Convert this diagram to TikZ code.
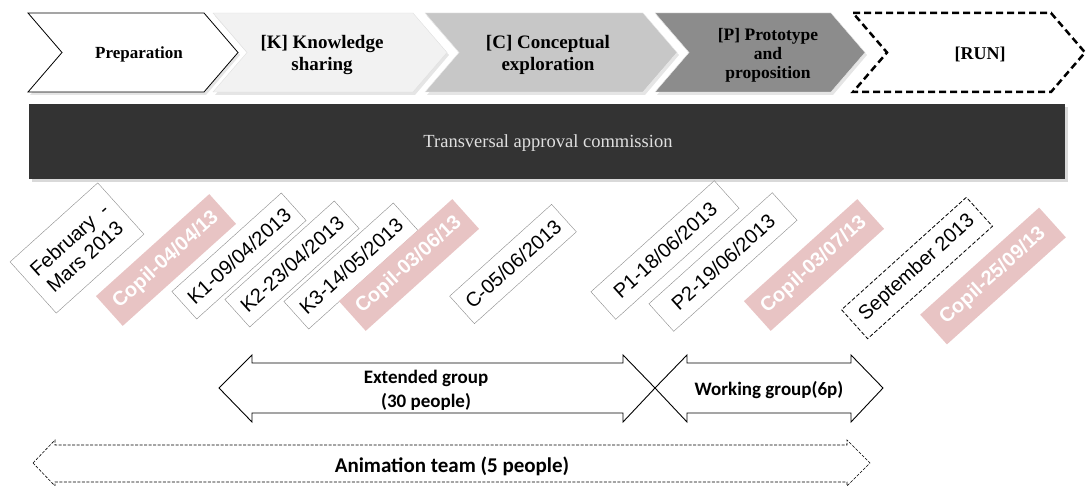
\documentclass[tikz,border=0pt]{standalone}
\usepackage{fontspec}
\setmainfont{Liberation Serif}
\newfontfamily\arialfont{Liberation Sans}
\newfontfamily\calibrifont{Carlito}
\usetikzlibrary{calc}
\definecolor{copil}{HTML}{E8C4C4}
\definecolor{barcol}{HTML}{333333}
\def\chevron[#1](#2:#3){%
	\fill[black!10] (#2+2,16) -- (#3-32,16) -- (#3+2,55) -- (#3-32,95) -- (#2+2,95) -- (#2+36,55) -- cycle;
	\draw[#1] (#2,13) -- (#3-34,13) -- (#3,52.5) -- (#3-34,92) -- (#2,92) -- (#2+34,52.5) -- cycle;}

\tikzset{
	datebox/.style={draw=black!45, fill=white, rotate=42, font=\arialfont\fontsize{20}{23}\selectfont, inner xsep=8pt, minimum height=37pt, align=center},
	copilbox/.style={fill=copil, rotate=42, text=white, font=\arialfont\bfseries\fontsize{20}{23}\selectfont, inner xsep=9pt, minimum height=40pt},
	steplabel/.style={font=\bfseries\fontsize{19}{22}\selectfont, align=center},
	grouplabel/.style={font=\calibrifont\bfseries\fontsize{19}{24}\selectfont, align=center},
}

\begin{document}
\begin{tikzpicture}[x=1pt, y=-1pt]
			%%%%% START %%%%%
			\useasboundingbox (0,0) rectangle (1087,486);
			
			% phases
			\chevron[fill=white, draw=black, line width=0.8pt](28:238);
			\chevron[fill=black!5, draw=black!12](213:447);
			\chevron[fill=black!22, draw=black!8](425:677);
			\chevron[fill=black!45, draw=black!8](655:865);
			\draw[line width=2.5pt, dash pattern=on 7pt off 4pt] (853,13) -- (1051,13) -- (1085,52.5) -- (1051,92) -- (853,92) -- (887,52.5) -- cycle;
			
			\node[steplabel, font=\bfseries\fontsize{17}{20}\selectfont] (prep) at (139, 54) {Preparation};
			\node[steplabel] (know) at (322, 55) {[K] Knowledge\\sharing};
			\node[steplabel] (conc) at (548, 55) {[C] Conceptual\\exploration};
			\node[steplabel, font=\bfseries\fontsize{17.5}{19}\selectfont] (prot) at (768, 55) {[P] Prototype\\and\\proposition};
			\node[steplabel, font=\bfseries\fontsize{18}{20}\selectfont] (run) at (980, 54) {[RUN]};
			
			% commission bar
			\fill[black!15] (32,107) rectangle (1068,182);
			\fill[barcol] (29,104) rectangle (1065,179);
			\node[text=black!12, font=\fontsize{18.5}{20}\selectfont] (commission) at (548, 143) {Transversal approval commission};
			
			% dates
			\node[datebox, minimum width=118pt, minimum height=69pt] (feb) at (77, 248) {February~~-\\Mars 2013};
			\node[copilbox] (copil1) at (166, 260) {Copil-04/04/13};
			\node[datebox] (k1) at (239, 256) {K1-09/04/2013};
			\node[datebox] (k2) at (292, 264) {K2-23/04/2013};
			\node[datebox] (k3) at (351, 266) {K3-14/05/2013};
			\node[copilbox] (copil2) at (409, 265) {Copil-03/06/13};
			\node[datebox] (c1) at (513, 264) {C-05/06/2013};
			\node[datebox, minimum width=166pt] (p1) at (665, 250) {P1-18/06/2013};
			\node[datebox, minimum width=166pt] (p2) at (723, 262) {P2-19/06/2013};
			\node[copilbox] (copil3) at (814, 265) {Copil-03/07/13};
			\node[datebox, draw=black, line width=0.8pt, dash pattern=on 4pt off 2pt, minimum width=168pt, minimum height=39pt] (sept) at (917, 268) {September 2013};
			\node[copilbox, minimum width=160pt] (copil4) at (993, 276) {Copil-25/09/13};
			
			% groups
			\draw[line width=0.9pt] (219,388) -- (252,355) -- (252,363) -- (623,363) -- (623,355) -- (655,388) -- (623,422) -- (623,413) -- (252,413) -- (252,422) -- cycle;
			\draw[line width=0.9pt] (655,388) -- (687,355) -- (687,363) -- (851,363) -- (851,355) -- (883,388) -- (851,422) -- (851,413) -- (687,413) -- (687,422) -- cycle;
			\draw[line width=0.6pt, dash pattern=on 3pt off 1.5pt] (33,463) -- (55,440) -- (55,445) -- (847,445) -- (847,440) -- (870,463) -- (847,486) -- (847,482) -- (55,482) -- (55,486) -- cycle;
			
			\node[grouplabel] (extended) at (426, 390) {Extended group\\(30 people)};
			\node[grouplabel] (working) at (769, 390) {Working group(6p)};
			\node[grouplabel, font=\calibrifont\bfseries\fontsize{21}{24}\selectfont] (animation) at (452, 466) {Animation team (5 people)};
			
			%%%%% END %%%%%
\end{tikzpicture}
\end{document}
